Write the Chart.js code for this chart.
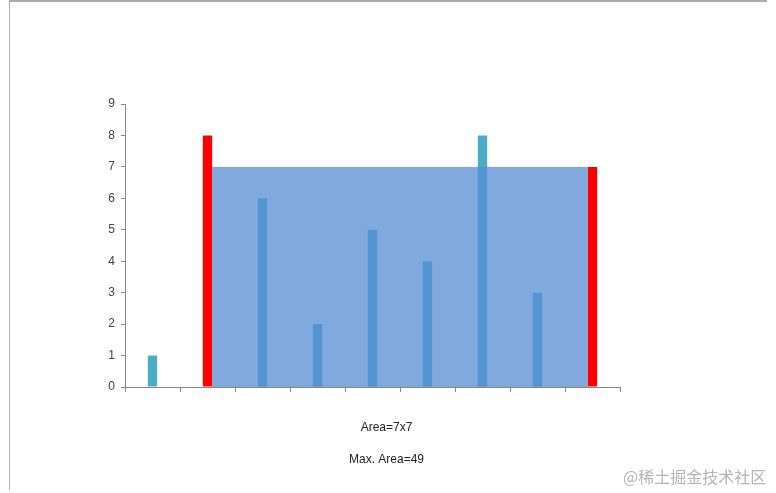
<!DOCTYPE html>
<html>
<head>
<meta charset="utf-8">
<script src="https://cdn.jsdelivr.net/npm/chart.js@4/dist/chart.umd.min.js"></script>
<style>
html,body{margin:0;padding:0;background:#fff;}
#wrap{position:relative;width:776px;height:493px;}
</style>
</head>
<body>
<div id="wrap"><canvas id="c" width="776" height="493"></canvas></div>
<script>
const categories = ['1','2','3','4','5','6','7','8','9'];
const heights = [1, 8, 6, 2, 5, 4, 8, 3, 7];
const leftWall = 1;   // index of left container wall
const rightWall = 8;  // index of right container wall
const waterLevel = 7;
const yTicks = [0,1,2,3,4,5,6,7,8,9];
const areaLabel = 'Area=7x7';
const maxLabel = 'Max. Area=49';
const watermark = '@稀土掘金技术社区';

const barColors = heights.map((h, i) => (i === leftWall || i === rightWall) ? '#ff0000' : '#4bacc6');

const overlayPlugin = {
  id: 'overlay',
  beforeDraw(chart) {
    const ctx = chart.ctx;
    ctx.save();
    ctx.fillStyle = '#fff';
    ctx.fillRect(0, 0, chart.width, chart.height);
    ctx.strokeStyle = '#a9adb2';
    ctx.lineWidth = 2;
    ctx.beginPath();
    ctx.moveTo(9, 1); ctx.lineTo(767, 1);
    ctx.stroke();
    ctx.lineWidth = 1;
    ctx.beginPath();
    ctx.moveTo(9.5, 0); ctx.lineTo(9.5, 490);
    ctx.stroke();
    ctx.restore();
  },
  afterDatasetsDraw(chart) {
    const ctx = chart.ctx;
    const meta = chart.getDatasetMeta(0);
    const l = meta.data[leftWall], r = meta.data[rightWall];
    const y = chart.scales.y;
    const x0 = l.x + l.width / 2;
    const x1 = r.x - r.width / 2;
    const yTop = y.getPixelForValue(waterLevel);
    const yBot = y.getPixelForValue(0);
    ctx.save();
    ctx.fillStyle = 'rgba(86,142,211,0.75)';
    ctx.fillRect(x0, yTop, x1 - x0, yBot - yTop);
    const cx = (chart.chartArea.left + chart.chartArea.right) / 2;
    ctx.fillStyle = '#222';
    ctx.font = '12px "Liberation Sans", Arial, sans-serif';
    ctx.textAlign = 'center';
    ctx.textBaseline = 'middle';
    ctx.fillText(areaLabel, cx + 14, 428);
    ctx.fillText(maxLabel, cx + 14, 460);
    ctx.fillStyle = '#b4b4b4';
    ctx.font = '16px "Noto Sans CJK SC", sans-serif';
    ctx.textAlign = 'left';
    ctx.fillText(watermark, 623, 477);
    ctx.restore();
  }
};

new Chart(document.getElementById('c'), {
  type: 'bar',
  data: {
    labels: categories,
    datasets: [{
      data: heights,
      backgroundColor: barColors,
      borderWidth: 0,
      categoryPercentage: 1,
      barPercentage: 0.17
    }]
  },
  options: {
    responsive: false,
    animation: false,
    devicePixelRatio: 1,
    layout: { padding: { left: 0, top: 104, right: 156, bottom: 96 } },
    plugins: { legend: { display: false }, tooltip: { enabled: false } },
    scales: {
      x: {
        grid: { offset: true, drawOnChartArea: false, drawTicks: true, tickLength: 5, color: '#868686' },
        border: { color: '#868686', width: 1 },
        ticks: { callback: () => '', padding: 0 },
        afterFit(s) { s.height = 10; }
      },
      y: {
        min: 0, max: 9,
        afterBuildTicks(s) { s.ticks = yTicks.map(v => ({ value: v })); },
        grid: { drawOnChartArea: false, drawTicks: true, tickLength: 4, color: '#868686' },
        border: { color: '#868686', width: 1 },
        ticks: { color: '#404040', font: { family: '"Liberation Sans", Arial, sans-serif', size: 12 }, padding: 6 },
        afterFit(s) { s.width = 125; }
      }
    }
  },
  plugins: [overlayPlugin]
});
</script>
</body>
</html>
